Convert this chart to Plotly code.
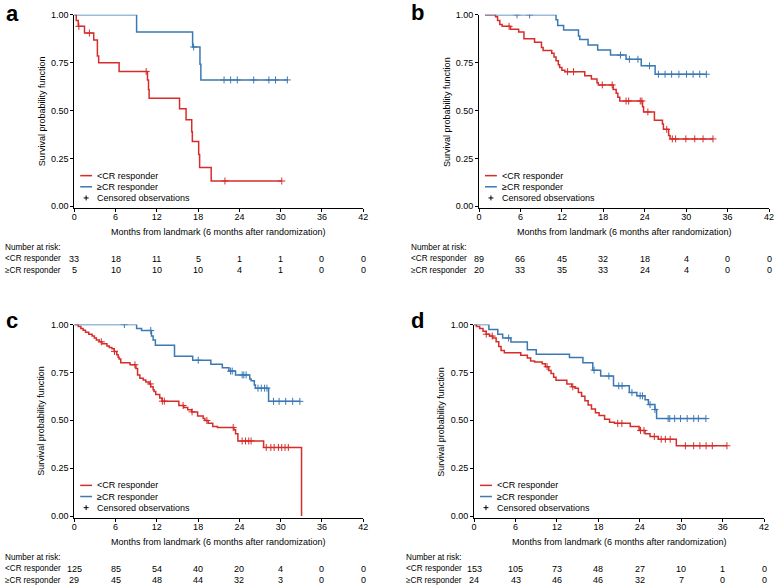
import plotly.graph_objects as go

W, H = 778, 588
RED = "#d62d2a"
BLUE = "#3b78b4"
FONT = "Liberation Sans"

# ---------------- data ----------------
risk_times = [0, 6, 12, 18, 24, 30, 36, 42]
risk_labels = ["<CR responder", "\u2265CR responder"]

# Panel a
a_red_t = [0, 0.29, 0.58, 1.49, 2.83, 3.36, 3.55, 6.52, 10.64, 10.79, 10.88, 15.3, 16.25, 17.07, 17.16, 18.08, 18.22, 19.9, 30.16]
a_red_s = [1.0, 0.97, 0.94, 0.905, 0.869, 0.785, 0.75, 0.704, 0.66, 0.61, 0.565, 0.509, 0.452, 0.39, 0.338, 0.27, 0.203, 0.132, 0.132]
a_red_c = [0.67, 2.2, 10.45, 21.9, 30.16]
a_blue_t = [0, 9.06, 17.2, 18.27, 18.4, 30.97]
a_blue_s = [1.0, 0.911, 0.832, 0.742, 0.66, 0.66]
a_blue_c = [17.35, 21.77, 22.73, 23.69, 26.08, 28.29, 29.25, 30.97]
a_risk_red = [33, 18, 11, 5, 1, 1, 0, 0]
a_risk_blue = [5, 10, 10, 10, 4, 1, 0, 0]

# Panel b
b_red_t = [0.86, 2.39, 2.68, 3.01, 3.35, 4.55, 5.74, 6.5, 8.04, 9.04, 9.28, 10.53, 10.86, 11.15, 11.48, 11.67, 12.0, 12.44,
           15.31, 16.27, 17.08, 17.27, 19.43, 19.86, 20.1, 20.38, 23.68, 23.83, 25.4, 26.56, 26.7, 27.46, 27.66, 33.88]
b_red_s = [1.0, 0.99, 0.97, 0.95, 0.94, 0.925, 0.91, 0.875, 0.857, 0.83, 0.814, 0.80, 0.78, 0.76, 0.74, 0.725, 0.71, 0.703,
           0.682, 0.665, 0.645, 0.634, 0.61, 0.59, 0.569, 0.55, 0.52, 0.493, 0.45, 0.43, 0.402, 0.37, 0.352, 0.352]
b_red_c = [4.35, 12.82, 13.68, 17.85, 19.28, 21.29, 21.67, 23.35, 23.59, 24.45, 27.18, 27.99, 28.47, 29.95, 31.24, 32.44, 33.88]
b_blue_t = [0.86, 11.15, 11.39, 12.25, 14.4, 14.59, 15.79, 17.18, 19.04, 21.29, 23.49, 25.5, 32.92]
b_blue_s = [1.0, 0.975, 0.945, 0.921, 0.89, 0.871, 0.842, 0.816, 0.79, 0.768, 0.734, 0.69, 0.69]
b_blue_c = [5.5, 7.32, 20.48, 21.77, 23.01, 24.69, 25.98, 26.94, 27.89, 28.95, 30.05, 31.0, 31.96, 32.92]
b_risk_red = [89, 66, 45, 32, 18, 4, 0, 0]
b_risk_blue = [20, 33, 35, 33, 24, 4, 0, 0]

# Panel c
c_red_t = [0, 0.58, 0.96, 1.29, 1.63, 2.11, 2.59, 2.92, 3.21, 3.64, 4.03, 4.75, 5.08, 5.47, 5.8, 6.18, 6.38, 6.52, 6.76,
           8.1, 8.96, 9.2, 9.54, 10.02, 10.4, 10.88, 11.12, 11.46, 11.6, 11.84, 12.42, 12.75, 15.2, 15.92, 16.49, 17.07,
           17.93, 18.74, 18.98, 19.46, 20.13, 20.81, 23.2, 23.44, 23.78, 27.52, 33.03]
c_red_s = [1.0, 0.99, 0.98, 0.97, 0.96, 0.95, 0.94, 0.93, 0.92, 0.91, 0.90, 0.888, 0.88, 0.874, 0.86, 0.843, 0.83, 0.82, 0.80,
           0.79, 0.77, 0.737, 0.72, 0.71, 0.70, 0.69, 0.675, 0.66, 0.65, 0.635, 0.616, 0.60, 0.577, 0.567, 0.555, 0.544,
           0.522, 0.51, 0.499, 0.485, 0.468, 0.462, 0.45, 0.43, 0.392, 0.358, 0.0]
c_red_c = [3.93, 5.85, 8.82, 11.07, 12.8, 13.09, 15.82, 17.12, 19.27, 23.1, 24.4, 24.88, 25.36, 25.7, 27.9, 28.57, 29.05,
           29.67, 30.15, 30.63, 31.11]
c_blue_t = [0, 9.06, 9.78, 11.22, 11.46, 11.79, 14.57, 17.21, 19.85, 21.52, 22.48, 23.44, 25.5, 25.7, 26.17, 26.32, 28.24, 32.79]
c_blue_s = [1.0, 0.98, 0.969, 0.94, 0.92, 0.892, 0.835, 0.814, 0.793, 0.775, 0.757, 0.737, 0.716, 0.706, 0.685, 0.668, 0.599, 0.599]
c_blue_c = [7.29, 11.12, 18.02, 22.72, 22.96, 24.4, 24.64, 24.98, 26.7, 27.18, 27.66, 28.0, 28.96, 29.77, 30.73, 31.74, 32.79]
c_risk_red = [125, 85, 54, 40, 20, 4, 0, 0]
c_risk_blue = [29, 45, 48, 44, 32, 3, 0, 0]

# Panel d
d_red_t = [0, 0.33, 0.81, 1.29, 1.76, 2.24, 2.71, 3.19, 3.57, 3.9, 4.38, 6.76, 7.71, 8.19, 8.76, 9.86, 10.33, 10.81, 11.14,
           11.52, 11.86, 13.43, 14.14, 14.62, 15.1, 15.57, 16.05, 16.52, 17.0, 17.57, 18.1, 18.9, 19.62, 20.33, 22.62,
           23.9, 24.76, 25.48, 26.67, 29.29, 36.62]
d_red_s = [1.0, 0.99, 0.98, 0.965, 0.95, 0.94, 0.93, 0.91, 0.885, 0.865, 0.853, 0.84, 0.825, 0.81, 0.805, 0.795, 0.78, 0.76,
           0.745, 0.725, 0.709, 0.69, 0.675, 0.668, 0.645, 0.625, 0.602, 0.58, 0.559, 0.54, 0.525, 0.505, 0.49, 0.484, 0.468,
           0.447, 0.43, 0.415, 0.401, 0.367, 0.367]
d_red_c = [1.76, 2.62, 10.57, 14.3, 20.8, 21.4, 24.1, 24.6, 26.1, 27.1, 27.7, 28.4, 30.6, 31.8, 32.7, 33.6, 34.5, 36.62]
d_blue_t = [0, 2.14, 3.43, 4.14, 5.33, 7.71, 9.0, 13.81, 15.76, 17.19, 18.33, 20.19, 22.48, 23.57, 24.76, 25.24, 26.19, 26.43, 33.57]
d_blue_s = [1.0, 0.974, 0.95, 0.93, 0.909, 0.869, 0.845, 0.828, 0.80, 0.762, 0.731, 0.68, 0.645, 0.628, 0.607, 0.582, 0.556, 0.509, 0.509]
d_blue_c = [5.0, 17.38, 19.52, 20.95, 21.43, 22.86, 24.05, 24.38, 25.48, 26.19, 28.1, 28.33, 29.05, 29.9, 30.86, 31.81, 32.48, 33.57]
d_risk_red = [153, 105, 73, 48, 27, 10, 1, 0]
d_risk_blue = [24, 43, 46, 46, 32, 7, 0, 0]

# ---------------- layout geometry (pixels) ----------------
panels = [
    dict(name="a", red=(a_red_t, a_red_s, a_red_c), blue=(a_blue_t, a_blue_s, a_blue_c), risk=(a_risk_red, a_risk_blue),
         x0=72, x1=364, ytop=10, ybot=206, letter=(1, 9), lab_x=0, leg_x=78, leg_y=173, dy=0),
    dict(name="b", red=(b_red_t, b_red_s, b_red_c), blue=(b_blue_t, b_blue_s, b_blue_c), risk=(b_risk_red, b_risk_blue),
         x0=481, x1=774, ytop=10, ybot=206, letter=(410, 8), lab_x=410, leg_x=487, leg_y=173, dy=0),
    dict(name="c", red=(c_red_t, c_red_s, c_red_c), blue=(c_blue_t, c_blue_s, c_blue_c), risk=(c_risk_red, c_risk_blue),
         x0=72, x1=364, ytop=324, ybot=520, letter=(1, 320), lab_x=0, leg_x=78, leg_y=487, dy=314),
    dict(name="d", red=(d_red_t, d_red_s, d_red_c), blue=(d_blue_t, d_blue_s, d_blue_c), risk=(d_risk_red, d_risk_blue),
         x0=476, x1=769, ytop=324, ybot=520, letter=(410, 320), lab_x=405, leg_x=482, leg_y=487, dy=314),
]


def px(x):
    return x / W


def py(y):
    return 1 - y / H


def step_value(ts, ss, t):
    v = ss[0]
    for ti, si in zip(ts, ss):
        if ti <= t:
            v = si
    return v


fig = go.Figure()
annotations = []
shapes = []
font = dict(family=FONT, size=9, color="black")
small = dict(family=FONT, size=8.2, color="black")

for i, p in enumerate(panels):
    k = "" if i == 0 else str(i + 1)
    xa, ya = "x" + k, "y" + k
    for (t, s, c), col in [(p["red"], RED), (p["blue"], BLUE)]:
        fig.add_trace(go.Scatter(x=t, y=s, mode="lines", line=dict(color=col, width=1.5, shape="hv"),
                                 xaxis=xa, yaxis=ya, showlegend=False, hoverinfo="skip"))
        cy = [step_value(t, s, ct) for ct in c]
        fig.add_trace(go.Scatter(x=c, y=cy, mode="markers",
                                 marker=dict(symbol="cross-thin", size=5, line=dict(width=1, color=col), color=col),
                                 xaxis=xa, yaxis=ya, showlegend=False, hoverinfo="skip"))
    axis_common = dict(showline=True, linecolor="black", linewidth=1, ticks="outside", ticklen=3, tickwidth=1,
                       tickcolor="black", showgrid=False, zeroline=False, tickfont=font)
    fig.layout["xaxis" + k] = dict(axis_common, domain=[px(p["x0"]), px(p["x1"])], range=[0, 42],
                                   tickvals=risk_times, anchor=ya, ticklabelstandoff=-3)
    fig.layout["yaxis" + k] = dict(axis_common, domain=[py(p["ybot"]), py(p["ytop"])], range=[-0.01, 1.0],
                                   tickvals=[0, 0.25, 0.5, 0.75, 1.0], tickformat=".2f", anchor=xa)

    dy = p["dy"]
    cx = (p["x0"] + p["x1"]) / 2
    # panel letter
    annotations.append(dict(text="<b>%s</b>" % p["name"], x=px(p["letter"][0]), y=py(p["letter"][1]), xref="paper",
                            yref="paper", xanchor="left", yanchor="middle", showarrow=False,
                            font=dict(family=FONT, size=22, color="black")))
    # y title
    annotations.append(dict(text="Survival probability function", x=px(p["x0"] - 33), y=py((p["ytop"] + p["ybot"]) / 2),
                            xref="paper", yref="paper", textangle=-90, showarrow=False, font=font,
                            xanchor="center", yanchor="middle"))
    # x title
    annotations.append(dict(text="Months from landmark (6 months after randomization)", x=px(cx), y=py(230 + dy),
                            xref="paper", yref="paper", showarrow=False, font=font, xanchor="center", yanchor="middle"))
    # number at risk
    annotations.append(dict(text="Number at risk:", x=px(p["lab_x"]), y=py(246 + dy), xref="paper", yref="paper",
                            showarrow=False, font=small, xanchor="left", yanchor="middle"))
    for r, (lab, vals) in enumerate(zip(risk_labels, p["risk"])):
        yy = py(257.5 + 11.5 * r + dy)
        annotations.append(dict(text=lab, x=px(p["lab_x"]), y=yy, xref="paper", yref="paper", showarrow=False,
                                font=small, xanchor="left", yanchor="middle"))
        for tv, v in zip(risk_times, vals):
            annotations.append(dict(text=str(v), x=tv, xref=xa, y=yy, yref="paper", showarrow=False, font=font,
                                    xanchor="center", yanchor="middle"))
    # legend
    lx, ly = p["leg_x"], p["leg_y"]
    for j, (col, lab) in enumerate([(RED, "<CR responder"), (BLUE, "\u2265CR responder")]):
        yy = ly + 11.3 * j
        shapes.append(dict(type="line", xref="paper", yref="paper", x0=px(lx), x1=px(lx + 12), y0=py(yy), y1=py(yy),
                           line=dict(color=col, width=1.5)))
        annotations.append(dict(text=lab, x=px(lx + 15), y=py(yy), xref="paper", yref="paper", showarrow=False,
                                font=font, xanchor="left", yanchor="middle"))
    yy = ly + 22.6
    shapes.append(dict(type="line", xref="paper", yref="paper", x0=px(lx + 3.5), x1=px(lx + 8.5), y0=py(yy), y1=py(yy),
                       line=dict(color="black", width=1)))
    shapes.append(dict(type="line", xref="paper", yref="paper", x0=px(lx + 6), x1=px(lx + 6), y0=py(yy - 2.5),
                       y1=py(yy + 2.5), line=dict(color="black", width=1)))
    annotations.append(dict(text="Censored observations", x=px(lx + 15), y=py(yy), xref="paper", yref="paper",
                            showarrow=False, font=font, xanchor="left", yanchor="middle"))

fig.update_layout(width=W, height=H, margin=dict(l=0, r=0, t=0, b=0), plot_bgcolor="white", paper_bgcolor="white",
                  annotations=annotations, shapes=shapes, font=font, showlegend=False)
fig.write_html("out.html", config={"displayModeBar": False},
               post_script="document.body.style.margin='0';document.body.style.overflow='hidden';")
